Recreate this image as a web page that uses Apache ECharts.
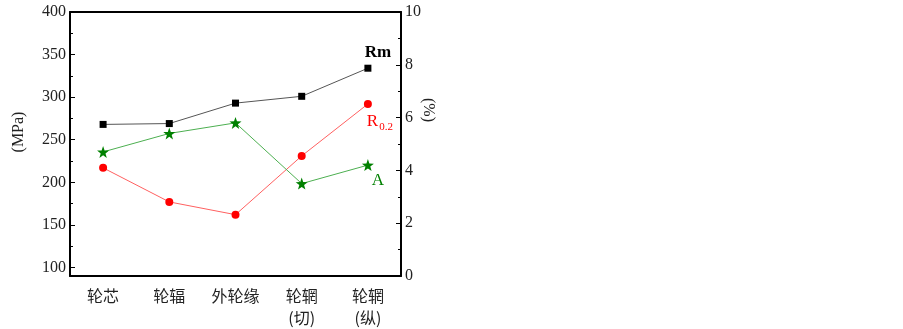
<!DOCTYPE html>
<html>
<head>
<meta charset="utf-8">
<script src="https://cdn.jsdelivr.net/npm/echarts@6/dist/echarts.min.js"></script>
<style>
  html, body { margin: 0; padding: 0; background: #fff; }
  #chart { width: 903px; height: 329px; }
</style>
</head>
<body>
<div id="chart"></div>
<script>
const categories = ["轮芯", "轮辐", "外轮缘", "轮辋\n(切)", "轮辋\n(纵)"];
const rmValues = [268, 269, 293, 301, 334];     // Rm, MPa
const rp02Values = [217, 177, 162, 231, 292];   // R0.2, MPa
const aValues = [4.7, 5.4, 5.8, 3.5, 4.2];      // A, %
const leftLabels = [100, 150, 200, 250, 300, 350, 400];
const leftMinor = [125, 175, 225, 275, 325, 375];

const SERIF = "'Liberation Serif', 'Times New Roman', serif";
const CJK = "'Noto Sans CJK SC', sans-serif";
const STAR = "path://M0,-10L2.35,-3.24L9.51,-3.09L3.8,1.24L5.88,8.09L0,4L-5.88,8.09L-3.8,1.24L-9.51,-3.09L-2.35,-3.24Z";

const chart = echarts.init(document.getElementById("chart"));

// label only on the last point of each series
function withEndLabel(values, label) {
  return values.map((v, i) => (i === values.length - 1 ? { value: v, label } : v));
}

const option = {
  animation: false,
  grid: { left: 70, right: 502, top: 12, bottom: 49 },
  xAxis: [
    {
      type: "category",
      data: categories,
      axisLine: { lineStyle: { color: "#000", width: 2 } },
      axisTick: { inside: true, alignWithLabel: true, length: 4, lineStyle: { color: "#000" } },
      axisLabel: { color: "#222", fontFamily: CJK, fontSize: 16, margin: 9, lineHeight: 22 }
    },
    {
      type: "category",
      data: categories,
      position: "top",
      axisLine: { lineStyle: { color: "#000", width: 2 } },
      axisTick: { show: false },
      axisLabel: { show: false }
    }
  ],
  yAxis: [
    {
      type: "value",
      min: 90,
      max: 400,
      position: "left",
      axisLine: { show: true, lineStyle: { color: "#000", width: 2 } },
      axisTick: { show: true, inside: true, length: 5, customValues: leftLabels, lineStyle: { color: "#000" } },
      axisLabel: { customValues: leftLabels, color: "#222", fontFamily: SERIF, fontSize: 16, margin: 4 },
      splitLine: { show: false }
    },
    {
      type: "value",
      min: 0,
      max: 10,
      interval: 2,
      position: "right",
      axisLine: { show: true, lineStyle: { color: "#000", width: 2 } },
      axisTick: { show: true, inside: true, length: 5, lineStyle: { color: "#000" } },
      minorTick: { show: true, splitNumber: 2, length: 3, lineStyle: { color: "#000" } },
      axisLabel: { color: "#222", fontFamily: SERIF, fontSize: 16, margin: 4 },
      splitLine: { show: false }
    },
    {
      type: "value",
      min: 90,
      max: 400,
      position: "left",
      axisLine: { show: false },
      axisTick: { show: true, inside: true, length: 3, customValues: leftMinor, lineStyle: { color: "#000" } },
      axisLabel: { show: false },
      splitLine: { show: false }
    }
  ],
  graphic: [
    {
      type: "text", x: 19, y: 132, rotation: Math.PI / 2,
      style: { text: "(MPa)", fill: "#222", font: "16px " + SERIF, align: "center", verticalAlign: "middle" }
    },
    {
      type: "text", x: 428, y: 110, rotation: -Math.PI / 2,
      style: { text: "(%)", fill: "#222", font: "16px " + SERIF, align: "center", verticalAlign: "middle" }
    }
  ],
  series: [
    {
      name: "Rm",
      type: "line",
      yAxisIndex: 0,
      data: withEndLabel(rmValues, {
        show: true, position: "inside", offset: [10, -16], formatter: "Rm",
        color: "#000", fontFamily: SERIF, fontSize: 17, fontWeight: "bold"
      }),
      symbol: "rect",
      symbolSize: 7,
      lineStyle: { color: "#555", width: 1 },
      itemStyle: { color: "#000" }
    },
    {
      name: "R0.2",
      type: "line",
      yAxisIndex: 0,
      data: withEndLabel(rp02Values, {
        show: true, position: "inside", offset: [12, 18], formatter: "{r|R}{s|0.2}",
        rich: {
          r: { color: "#f00", fontFamily: SERIF, fontSize: 17, lineHeight: 20 },
          s: { color: "#f00", fontFamily: SERIF, fontSize: 11, lineHeight: 20, padding: [10, 0, 0, 1] }
        }
      }),
      symbol: "circle",
      symbolSize: 8,
      lineStyle: { color: "#ff6060", width: 1 },
      itemStyle: { color: "#f00" }
    },
    {
      name: "A",
      type: "line",
      yAxisIndex: 1,
      data: withEndLabel(aValues, {
        show: true, position: "inside", offset: [10, 15], formatter: "A",
        color: "#008000", fontFamily: SERIF, fontSize: 17
      }),
      symbol: STAR,
      symbolSize: 12,
      lineStyle: { color: "#4caf50", width: 1 },
      itemStyle: { color: "#008000" }
    }
  ]
};

chart.setOption(option);
window.addEventListener("resize", () => chart.resize());
</script>
</body>
</html>
